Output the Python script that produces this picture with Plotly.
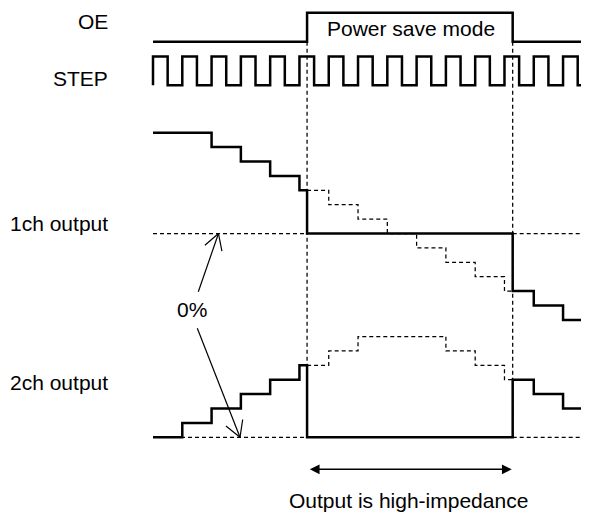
import math
import plotly.graph_objects as go

W, H = 589, 513          # reference canvas
OFF = 8                  # page body margin of the browser
FIG_W, FIG_H = W - OFF, H - OFF

# ---------------- data ----------------
step_index = list(range(15))                      # STEP rising edges (in clock periods)
ch1_levels = [7, 7, 6, 5, 4, 3, 2, 1, 0, -1, -2, -3, -4, -5, -6]
ch2_levels = [0, 1, 2, 3, 4, 5, 6, 7, 7, 7, 6, 5, 4, 3, 2]
oe_on, oe_off = 5.26, 12.28                       # OE edges (in clock periods)
step_duty = 0.5
signal_labels = ["OE", "STEP", "1ch output", "2ch output"]
mode_label = "Power save mode"
zero_label = "0%"
hiz_label = "Output is high-impedance"

# ---------------- layout calibration (pixels) ----------------
T0_PX, PERIOD_PX = 153, 29.29
CH1_ZERO_PX, CH2_ZERO_PX, UNIT_PX = 233.5, 437.3, 14.4
OE_LOW_PX, OE_HIGH_PX = 41.7, 12.7
STEP_LOW_PX, STEP_HIGH_PX = 85.3, 56.6

t_min = (OFF - T0_PX) / PERIOD_PX
t_max = (W - T0_PX) / PERIOD_PX


def yr(zero_px, unit_px):
    return [(zero_px - H) / unit_px, (zero_px - OFF) / unit_px]


FONT = dict(family="Liberation Sans, Arial, sans-serif", size=21, color="#000")
SOLID_W = 2.5
DASH_W = 1.25
DASH = "4px,3px"

fig = go.Figure()


def add_line(xs, ys, yaxis, dashed=False, shape="hv"):
    fig.add_trace(go.Scatter(
        x=xs, y=ys, mode="lines", xaxis="x", yaxis=yaxis,
        line=dict(shape=shape, color="black",
                  width=DASH_W if dashed else SOLID_W,
                  dash=DASH if dashed else "solid"),
        hoverinfo="skip", showlegend=False))


def actual_wave(levels):
    bps = sorted(set(step_index) | {oe_on, oe_off})
    xs, ys = [], []
    for b in bps:
        v = 0 if oe_on <= b < oe_off else levels[int(math.floor(b))]
        xs.append(b)
        ys.append(v)
    xs.append(t_max)
    ys.append(ys[-1])
    return xs, ys


def hidden_wave(levels):
    ks = [k for k in step_index if oe_on < k < oe_off]
    xs = [oe_on] + ks + [oe_off]
    ys = [levels[int(math.floor(oe_on))]] + [levels[k] for k in ks] + [levels[int(math.floor(oe_off))]]
    return xs, ys


# dashed reference (0%) lines
for yax in ("y", "y2"):
    add_line([0, oe_on], [0, 0], yax, dashed=True, shape="linear")
    add_line([oe_off, t_max], [0, 0], yax, dashed=True, shape="linear")

# hidden (would-be) waveforms during power save
add_line(*hidden_wave(ch1_levels), "y", dashed=True)
add_line(*hidden_wave(ch2_levels), "y2", dashed=True)

# actual outputs
add_line(*actual_wave(ch1_levels), "y")
add_line(*actual_wave(ch2_levels), "y2")

# OE
add_line([0, oe_on, oe_off, t_max], [0, 1, 0, 0], "y3")

# STEP clock
sx, sy = [0], [0]
for k in step_index:
    sx += [k, k + step_duty]
    sy += [1, 0]
sx.append(t_max)
sy.append(0)
add_line(sx, sy, "y4")

shapes = []
# vertical dashed markers at OE edges
for t in (oe_on, oe_off):
    shapes.append(dict(type="line", xref="x", yref="y5", x0=t, x1=t,
                       y0=OE_LOW_PX, y1=CH2_ZERO_PX,
                       line=dict(color="black", width=DASH_W, dash=DASH)))


def arrow(tail, tip, arm=18, half_angle=30):
    shapes.append(dict(type="line", xref="x2", yref="y5",
                       x0=tail[0], y0=tail[1], x1=tip[0], y1=tip[1],
                       line=dict(color="black", width=1.2)))
    ang = math.atan2(tail[1] - tip[1], tail[0] - tip[0])
    for s in (-1, 1):
        a = ang + s * math.radians(half_angle)
        shapes.append(dict(type="line", xref="x2", yref="y5",
                           x0=tip[0], y0=tip[1],
                           x1=tip[0] + arm * math.cos(a), y1=tip[1] + arm * math.sin(a),
                           line=dict(color="black", width=1.2)))


arrow((198.3, 291.7), (218.5, CH1_ZERO_PX))
arrow((197.3, 328.3), (240, CH2_ZERO_PX))

annotations = []


def text(s, x, y, xanchor="center"):
    annotations.append(dict(text=s, x=x, y=y, xref="x2", yref="y5",
                            xanchor=xanchor, yanchor="middle", showarrow=False,
                            font=FONT))


text(signal_labels[0], 110, 21.7, "right")
text(signal_labels[1], 110, 78.5, "right")
text(signal_labels[2], 110, 223.5, "right")
text(signal_labels[3], 110, 382.5, "right")
text(mode_label, 410.5, 28)
text(zero_label, 191.7, 309)
text(hiz_label, 408, 500)

# double arrow
annotations.append(dict(text="", x=511.7, y=469.3, ax=308.3, ay=469.3,
                        xref="x2", yref="y5", axref="x2", ayref="y5",
                        showarrow=True, arrowside="end+start",
                        arrowhead=2, startarrowhead=2,
                        arrowsize=1.3, startarrowsize=1.3,
                        arrowwidth=1.5, arrowcolor="black",
                        standoff=0, startstandoff=0))

ax_common = dict(visible=False, showgrid=False, zeroline=False, fixedrange=True)
fig.update_layout(
    width=FIG_W, height=FIG_H, autosize=False,
    margin=dict(l=0, r=0, t=0, b=0),
    paper_bgcolor="white", plot_bgcolor="white",
    showlegend=False,
    xaxis=dict(range=[t_min, t_max], domain=[0, 1], anchor="y", **ax_common),
    xaxis2=dict(range=[OFF, W], overlaying="x", anchor="y5", **ax_common),
    yaxis=dict(range=yr(CH1_ZERO_PX, UNIT_PX), domain=[0, 1], anchor="x", **ax_common),
    yaxis2=dict(range=yr(CH2_ZERO_PX, UNIT_PX), overlaying="y", anchor="x", **ax_common),
    yaxis3=dict(range=yr(OE_LOW_PX, OE_LOW_PX - OE_HIGH_PX), overlaying="y", anchor="x", **ax_common),
    yaxis4=dict(range=yr(STEP_LOW_PX, STEP_LOW_PX - STEP_HIGH_PX), overlaying="y", anchor="x", **ax_common),
    yaxis5=dict(range=[H, OFF], overlaying="y", anchor="x2", **ax_common),
    shapes=shapes,
    annotations=annotations,
)

fig.write_html("out.html", config={"displayModeBar": False})
